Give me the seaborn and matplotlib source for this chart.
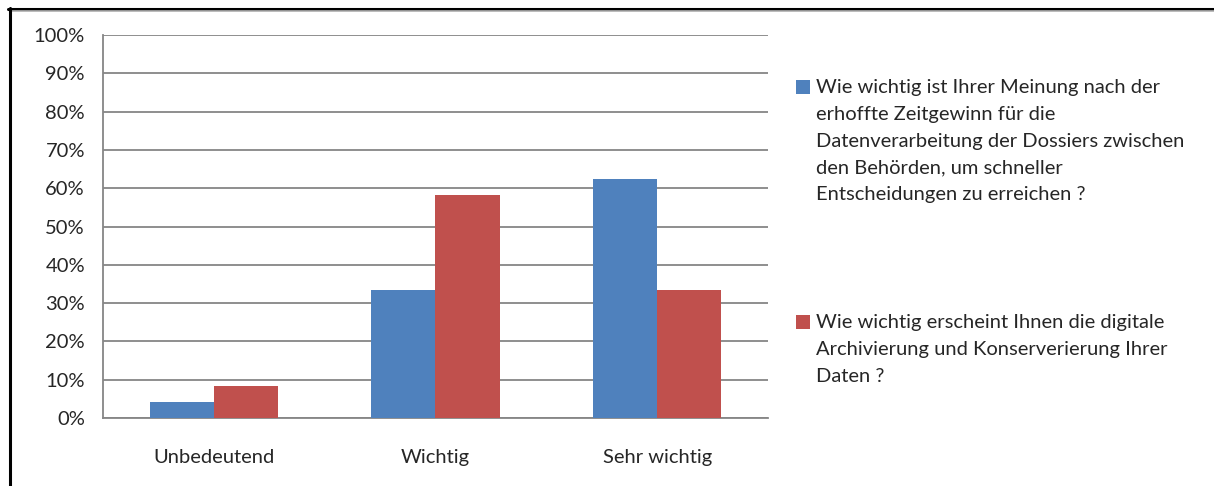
import pandas as pd
import matplotlib.pyplot as plt
import matplotlib.ticker as tkr
import seaborn as sns
from matplotlib.lines import Line2D
from matplotlib.patches import Rectangle
from matplotlib.legend_handler import HandlerPatch

# Data (percent of answers)
categories = ['Unbedeutend', 'Wichtig', 'Sehr wichtig']
frage_zeit = ('Wie wichtig ist Ihrer Meinung nach der\nerhoffte Zeitgewinn für die\n'
              'Datenverarbeitung der Dossiers zwischen\nden Behörden, um schneller\n'
              'Entscheidungen zu erreichen ?')
frage_archiv = ('Wie wichtig erscheint Ihnen die digitale\nArchivierung und Konserverierung Ihrer\n'
                'Daten ?')
values_zeit = [4.2, 33.3, 62.5]
values_archiv = [8.3, 58.3, 33.3]

df = pd.concat([
    pd.DataFrame({'Kategorie': categories, 'Anteil': values_zeit, 'Frage': frage_zeit}),
    pd.DataFrame({'Kategorie': categories, 'Anteil': values_archiv, 'Frage': frage_archiv}),
])

# Style
sns.set_style('white')
plt.rcParams['font.family'] = ['Lato', 'DejaVu Sans']
FS = 14.5
GRID = '#868686'
LINESP = 1.70
LINE_PT = 27 * 0.72  # wanted distance between wrapped legend lines

W, H = 1214, 486
fig = plt.figure(figsize=(W / 100, H / 100), dpi=100)
ax = fig.add_axes([103 / W, 1 - 418 / H, (768 - 103) / W, (418 - 35) / H])

sns.barplot(data=df, x='Kategorie', y='Anteil', hue='Frage',
            palette=['#4F81BD', '#C0504D'], saturation=1, width=0.58,
            linewidth=0, ax=ax, zorder=3)

ax.set_ylim(0, 100)
ax.set_yticks(range(0, 101, 10))
ax.yaxis.set_major_formatter(tkr.FuncFormatter(lambda y, p: '{:.0f}%'.format(y)))
ax.set_xlim(-0.5, 2.5)
ax.set_xticks([-0.5, 0.5, 1.5, 2.5], minor=False)
ax.set_xticklabels([])
ax.set_xticks([0, 1, 2], minor=True)
ax.set_xticklabels(categories, minor=True, fontsize=FS)
ax.tick_params(axis='x', which='minor', length=0, pad=22)
ax.tick_params(axis='x', which='major', length=6, width=1.3, color=GRID, direction='out')
ax.tick_params(axis='y', length=6, width=1.3, color=GRID, direction='out', pad=7, labelsize=FS)
ax.set_xlabel('')
ax.set_ylabel('')
ax.grid(axis='y', color=GRID, linewidth=1.3, zorder=0)
ax.set_axisbelow(True)
for side in ['top', 'right']:
    ax.spines[side].set_visible(False)
for side in ['left', 'bottom']:
    ax.spines[side].set_color(GRID)
    ax.spines[side].set_linewidth(1.3)


# Legend: square marker next to the first line of each wrapped label
def top_square(legend, orig_handle, xdescent, ydescent, width, height, fontsize):
    n = orig_handle.get_label().count('\n')
    shift = n / 2 * LINE_PT
    return Rectangle((-xdescent, -ydescent + shift), width, height)


handles, labels = ax.get_legend_handles_labels()
for h, l in zip(handles, labels):
    h.set_label(l)
leg = ax.legend(handles, labels, loc='upper left', bbox_to_anchor=(796 / W, 1 - 79 / H),
                bbox_transform=fig.transFigure, frameon=False, fontsize=FS,
                handlelength=0.7, handleheight=0.7, handletextpad=0.3,
                borderpad=0, borderaxespad=0, labelspacing=5.5,
                handler_map={Rectangle: HandlerPatch(patch_func=top_square)})
for t in leg.get_texts():
    t.set_linespacing(LINESP)

# Outer frame of the cropped chart
fig.add_artist(Line2D([8 / W, 1], [1 - 9 / H, 1 - 9 / H], color='black', lw=2.2, transform=fig.transFigure))
fig.add_artist(Line2D([10 / W, 1], [1 - 11.5 / H, 1 - 11.5 / H], color='#b0b0b0', lw=1.2, transform=fig.transFigure))
fig.add_artist(Line2D([9.5 / W, 9.5 / W], [0, 1 - 8 / H], color='black', lw=2.2, transform=fig.transFigure))

fig.savefig('out.png', dpi=100)
